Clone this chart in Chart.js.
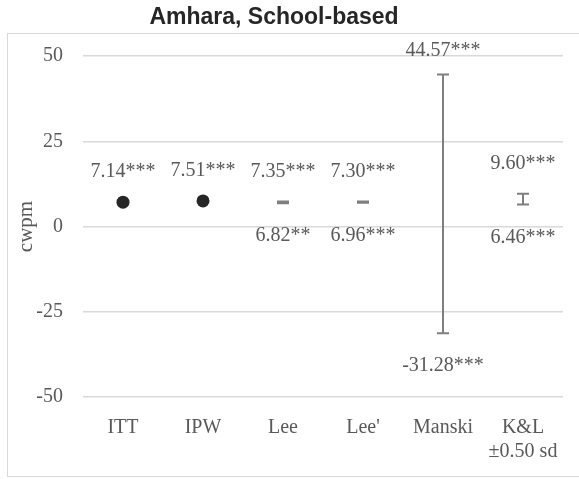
<!DOCTYPE html>
<html>
<head>
<meta charset="utf-8">
<script src="https://cdn.jsdelivr.net/npm/chart.js@4/dist/chart.umd.min.js"></script>
<style>
  html, body { margin: 0; padding: 0; background: #ffffff; }
  #wrap { width: 579px; height: 479px; }
</style>
</head>
<body>
<div id="wrap"><canvas id="c" width="579" height="479"></canvas></div>
<script>
// Estimators compared
const categories = ['ITT', 'IPW', 'Lee', "Lee'", 'Manski', ['K&L', '±0.50 sd']];
// Point estimates (ITT, IPW)
const pointEstimates = [7.14, 7.51, null, null, null, null];
// Bounds (Lee, Lee', Manski, Kling & Liebman)
const upperBounds = [null, null, 7.35, 7.30, 44.57, 9.60];
const lowerBounds = [null, null, 6.82, 6.96, -31.28, 6.46];
// Significance stars for the upper / point value and the lower bound
const upperStars = ['***', '***', '***', '***', '***', '***'];
const lowerStars = ['', '', '**', '***', '***', '***'];
// Y axis ticks
const yTicks = [-50, -25, 0, 25, 50];

const chartTitle = 'Amhara, School-based';
const yTitle = 'cwpm';

const SERIF = '"Liberation Serif", "DejaVu Serif", serif';
const SANS = '"Liberation Sans", Arial, sans-serif';
const TEXT_GREY = '#595959';
const BAR_GREY = '#7f7f7f';
const FONT_SIZE = 20;

const overlay = {
  id: 'overlay',
  beforeDraw(chart) {
    const ctx = chart.ctx;
    ctx.save();
    // outer frame
    ctx.strokeStyle = '#d9d9d9';
    ctx.lineWidth = 1;
    ctx.strokeRect(7.5, 33.5, 580, 443);
    // title
    ctx.fillStyle = '#262626';
    ctx.font = 'bold 23px ' + SANS;
    ctx.textAlign = 'center';
    ctx.textBaseline = 'middle';
    ctx.fillText(chartTitle, 274, 18);
    // y axis title
    ctx.fillStyle = TEXT_GREY;
    ctx.font = '21px ' + SERIF;
    ctx.translate(26, (chart.chartArea.top + chart.chartArea.bottom) / 2);
    ctx.rotate(-Math.PI / 2);
    ctx.textAlign = 'center';
    ctx.textBaseline = 'middle';
    ctx.fillText(yTitle, 0, 0);
    ctx.restore();
  },
  afterDatasetsDraw(chart) {
    const ctx = chart.ctx;
    const xs = chart.scales.x;
    const ys = chart.scales.y;
    ctx.save();
    // range bars with caps
    ctx.strokeStyle = BAR_GREY;
    ctx.lineWidth = 2;
    for (let i = 0; i < categories.length; i++) {
      if (upperBounds[i] == null || lowerBounds[i] == null) continue;
      const x = Math.round(xs.getPixelForValue(i));
      const yh = ys.getPixelForValue(upperBounds[i]);
      const yl = ys.getPixelForValue(lowerBounds[i]);
      ctx.beginPath();
      ctx.moveTo(x, yh);
      ctx.lineTo(x, yl);
      ctx.moveTo(x - 6, yh);
      ctx.lineTo(x + 6, yh);
      ctx.moveTo(x - 6, yl);
      ctx.lineTo(x + 6, yl);
      ctx.stroke();
    }
    // value labels
    ctx.fillStyle = TEXT_GREY;
    ctx.font = FONT_SIZE + 'px ' + SERIF;
    ctx.textAlign = 'center';
    ctx.textBaseline = 'middle';
    for (let i = 0; i < categories.length; i++) {
      const x = xs.getPixelForValue(i);
      const top = upperBounds[i] != null ? upperBounds[i] : pointEstimates[i];
      if (top != null) {
        const y = Math.max(ys.getPixelForValue(top) - 30, chart.chartArea.top - 5);
        ctx.fillText(top.toFixed(2) + upperStars[i], x, y);
      }
      if (lowerBounds[i] != null) {
        const y = ys.getPixelForValue(lowerBounds[i]) + 33;
        ctx.fillText(lowerBounds[i].toFixed(2) + lowerStars[i], x, y);
      }
    }
    ctx.restore();
  }
};

new Chart(document.getElementById('c'), {
  type: 'line',
  data: {
    labels: categories,
    datasets: [{
      data: pointEstimates,
      showLine: false,
      pointRadius: 6.5,
      pointHoverRadius: 6.5,
      pointBackgroundColor: '#262626',
      pointBorderWidth: 0,
      borderColor: '#262626'
    }]
  },
  options: {
    responsive: false,
    devicePixelRatio: 1,
    animation: false,
    events: [],
    layout: { padding: { top: 56, right: 16, bottom: 0, left: 0 } },
    plugins: {
      legend: { display: false },
      title: { display: false },
      tooltip: { enabled: false }
    },
    scales: {
      x: {
        type: 'category',
        offset: true,
        grid: { display: false, drawTicks: false },
        border: { display: false },
        ticks: {
          color: TEXT_GREY,
          font: { family: SERIF, size: FONT_SIZE, lineHeight: 1.2 },
          padding: 19,
          maxRotation: 0,
          autoSkip: false
        },
        afterFit(s) { s.height = 82; }
      },
      y: {
        min: yTicks[0],
        max: yTicks[yTicks.length - 1],
        afterBuildTicks(s) { s.ticks = yTicks.map(v => ({ value: v })); },
        grid: { color: '#d9d9d9', lineWidth: 1.5, drawTicks: false },
        border: { display: false },
        ticks: {
          color: TEXT_GREY,
          font: { family: SERIF, size: FONT_SIZE },
          padding: 20
        },
        afterFit(s) { s.width = 83; }
      }
    }
  },
  plugins: [overlay]
});
</script>
</body>
</html>
